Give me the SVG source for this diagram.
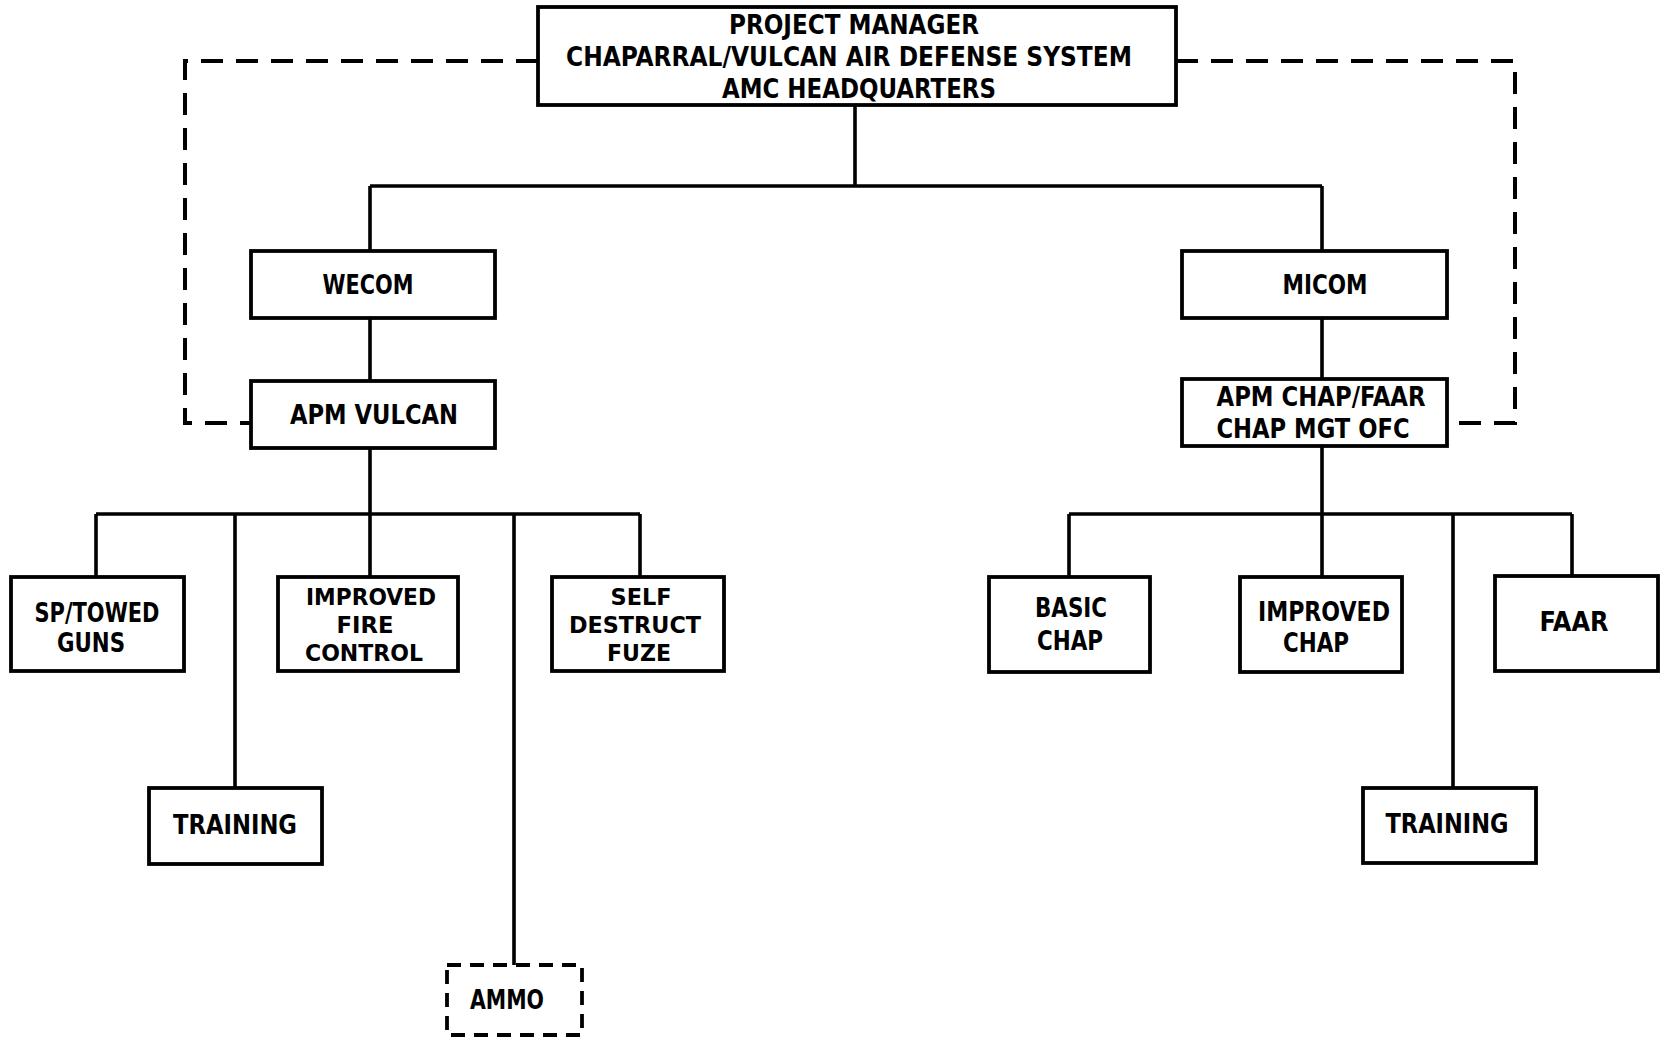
<svg xmlns="http://www.w3.org/2000/svg" width="1665" height="1038" viewBox="0 0 1665 1038">
<style>
.box{fill:#fff;stroke:#000;stroke-width:3.8}
.dbox{fill:#fff;stroke:#000;stroke-width:3.8;stroke-dasharray:14 9}
.ln{fill:none;stroke:#000;stroke-width:3.6}
.dl{fill:none;stroke:#000;stroke-width:4;stroke-dasharray:22 13}
text{font-family:"Liberation Sans Narrow","DejaVu Sans Condensed","Liberation Sans",sans-serif;font-weight:bold;font-size:26px;fill:#000;text-anchor:middle}
text.s{font-size:23px}
</style>
<rect width="1665" height="1038" fill="#fff"/>
<g id="connectors">
<path class="ln" d="M855 105V186M370 186H1322M370 186V251M1322 186V251"/>
<path class="ln" d="M370 318V381M1322 318V379"/>
<path class="dl" d="M538 61H185V423H251"/>
<path class="dl" d="M1176 61H1515V423H1447"/>
<path class="ln" d="M370 448V514M96 514H640M96 514V577M235 514V788M370 514V577M514 514V965M640 514V577"/>
<path class="ln" d="M1322 446V514M1069 514H1572M1069 514V577M1322 514V577M1453 514V788M1572 514V576"/>
</g>
<g id="pm"><rect class="box" x="538" y="7" width="638" height="98"/>
<text x="854" y="34" textLength="250" lengthAdjust="spacingAndGlyphs">PROJECT MANAGER</text>
<text x="849" y="66" textLength="566" lengthAdjust="spacingAndGlyphs">CHAPARRAL/VULCAN AIR DEFENSE SYSTEM</text>
<text x="859" y="98" textLength="274" lengthAdjust="spacingAndGlyphs">AMC HEADQUARTERS</text></g>
<g id="wecom"><rect class="box" x="251" y="251" width="244" height="67"/>
<text x="368" y="294" textLength="91" lengthAdjust="spacingAndGlyphs">WECOM</text></g>
<g id="apmvulcan"><rect class="box" x="251" y="381" width="244" height="67"/>
<text x="374" y="424" textLength="168" lengthAdjust="spacingAndGlyphs">APM VULCAN</text></g>
<g id="micom"><rect class="box" x="1182" y="251" width="265" height="67"/>
<text x="1325" y="294" textLength="85" lengthAdjust="spacingAndGlyphs">MICOM</text></g>
<g id="apmchap"><rect class="box" x="1182" y="379" width="265" height="67"/>
<text x="1321" y="406" textLength="209" lengthAdjust="spacingAndGlyphs">APM CHAP/FAAR</text>
<text x="1313" y="438" textLength="193" lengthAdjust="spacingAndGlyphs">CHAP MGT OFC</text></g>
<g id="sptowed"><rect class="box" x="11" y="577" width="173" height="94"/>
<text x="97" y="622" textLength="125" lengthAdjust="spacingAndGlyphs">SP/TOWED</text>
<text x="91" y="652" textLength="68" lengthAdjust="spacingAndGlyphs">GUNS</text></g>
<g id="training1"><rect class="box" x="149" y="788" width="173" height="76"/>
<text x="235" y="834" textLength="124" lengthAdjust="spacingAndGlyphs">TRAINING</text></g>
<g id="ifc"><rect class="box" x="278" y="577" width="180" height="94"/>
<text class="s" x="371" y="605" textLength="130" lengthAdjust="spacingAndGlyphs">IMPROVED</text>
<text class="s" x="365" y="633" textLength="57" lengthAdjust="spacingAndGlyphs">FIRE</text>
<text class="s" x="364" y="661" textLength="118" lengthAdjust="spacingAndGlyphs">CONTROL</text></g>
<g id="ammo"><rect class="dbox" x="447" y="965" width="135" height="70"/>
<text x="507" y="1009" textLength="74" lengthAdjust="spacingAndGlyphs">AMMO</text></g>
<g id="sdf"><rect class="box" x="552" y="577" width="172" height="94"/>
<text class="s" x="641" y="605" textLength="61" lengthAdjust="spacingAndGlyphs">SELF</text>
<text class="s" x="635" y="633" textLength="132" lengthAdjust="spacingAndGlyphs">DESTRUCT</text>
<text class="s" x="639" y="661" textLength="64" lengthAdjust="spacingAndGlyphs">FUZE</text></g>
<g id="basicchap"><rect class="box" x="989" y="577" width="161" height="95"/>
<text x="1071" y="617" textLength="72" lengthAdjust="spacingAndGlyphs">BASIC</text>
<text x="1070" y="650" textLength="66" lengthAdjust="spacingAndGlyphs">CHAP</text></g>
<g id="impchap"><rect class="box" x="1240" y="577" width="162" height="95"/>
<text x="1324" y="621" textLength="132" lengthAdjust="spacingAndGlyphs">IMPROVED</text>
<text x="1316" y="652" textLength="66" lengthAdjust="spacingAndGlyphs">CHAP</text></g>
<g id="training2"><rect class="box" x="1363" y="788" width="173" height="75"/>
<text x="1447" y="833" textLength="123" lengthAdjust="spacingAndGlyphs">TRAINING</text></g>
<g id="faar"><rect class="box" x="1495" y="576" width="163" height="95"/>
<text x="1574" y="631" textLength="69" lengthAdjust="spacingAndGlyphs">FAAR</text></g>
</svg>
